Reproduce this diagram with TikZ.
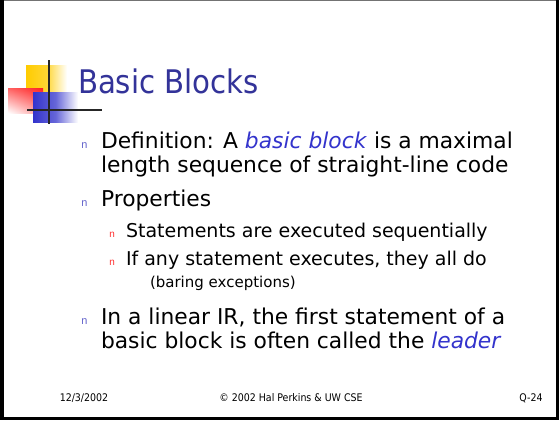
\documentclass[tikz,border=0pt]{standalone}
\usepackage{fontspec}
\usetikzlibrary{shadings}
\setmainfont{DejaVu Sans}
\newfontfamily\condfont{DejaVu Sans Condensed}
\setmonofont{Liberation Mono}
\definecolor{titleblue}{HTML}{333399}
\definecolor{emblue}{HTML}{3333CC}
\definecolor{bulletblue}{HTML}{6666CC}
\definecolor{bulletred}{HTML}{FF3333}
\definecolor{logoyellow}{HTML}{FFCC00}
\definecolor{logored}{HTML}{FF2020}
\definecolor{logoblue}{HTML}{3333CC}
\tikzset{
  txt/.style={anchor=base west, inner sep=0pt, outer sep=0pt},
  title/.style={txt, font=\condfont\fontsize{32.5}{36}\selectfont, text=titleblue},
  lvlone/.style={txt, font=\fontsize{21.8}{24}\selectfont},
  lvltwo/.style={txt, font=\fontsize{19}{21}\selectfont},
  lvlnote/.style={txt, font=\fontsize{15}{18}\selectfont},
  bulone/.style={txt, font=\ttfamily\fontsize{11}{12}\selectfont, text=bulletblue},
  bultwo/.style={txt, font=\ttfamily\fontsize{10}{11}\selectfont, text=bulletred},
  foot/.style={anchor=base, inner sep=0pt, font=\condfont\fontsize{10.5}{12}\selectfont},
}
\newcommand{\hiword}[1]{\textcolor{emblue}{\textit{#1}}}
\begin{document}
\begin{tikzpicture}[x=1pt, y=-1pt]
\useasboundingbox (0,0) rectangle (559,420);
\fill[white] (0,0) rectangle (559,420);
% slide frame
\fill[black!55] (0,0) rectangle (559,1.5);
\fill[black] (0,0) rectangle (3.5,420);
\fill[black] (555.5,0) rectangle (559,420);
\fill[black] (0,416.5) rectangle (559,420);
% logo
\shade[left color=logoyellow, right color=white, middle color=logoyellow!80] (26,65) rectangle (67,92);
\shade[upper right=logored, upper left=logored!70, lower right=logored!45, lower left=white] (8,88) rectangle (43,113);
\shade[left color=logoblue, right color=white, middle color=logoblue!75] (33,92) rectangle (78,122);
\fill[black!85] (47.5,60) rectangle (49.5,124);
\fill[black!85] (27,109) rectangle (102,111);
% title
\node[title] (t) at (78,93) {Basic Blocks};
% bullets
\node[bulone] (b1) at (81,148) {n};
\node[lvlone] (l1a) at (101,148) {Definition: A \hiword{basic block} is a maximal};
\node[lvlone] (l1b) at (101,172) {length sequence of straight-line code};
\node[bulone] (b2) at (81,206) {n};
\node[lvlone] (l2) at (101,206) {Properties};
\node[bultwo] (b21) at (109,237) {n};
\node[lvltwo] (l21) at (126,237) {Statements are executed sequentially};
\node[bultwo] (b22) at (109,265) {n};
\node[lvltwo] (l22) at (126,265) {If any statement executes, they all do};
\node[lvlnote] (l22n) at (150,287) {(baring exceptions)};
\node[bulone] (b3) at (81,324) {n};
\node[lvlone] (l3a) at (101,324) {In a linear IR, the first statement of a};
\node[lvlone] (l3b) at (101,348) {basic block is often called the \hiword{leader}};
% footer
\node[foot] (fd) at (84,401) {12/3/2002};
\node[foot] (fc) at (291,401) {\textcopyright{} 2002 Hal Perkins \& UW CSE};
\node[foot] (fp) at (531,401) {Q-24};
\end{tikzpicture}
\end{document}
